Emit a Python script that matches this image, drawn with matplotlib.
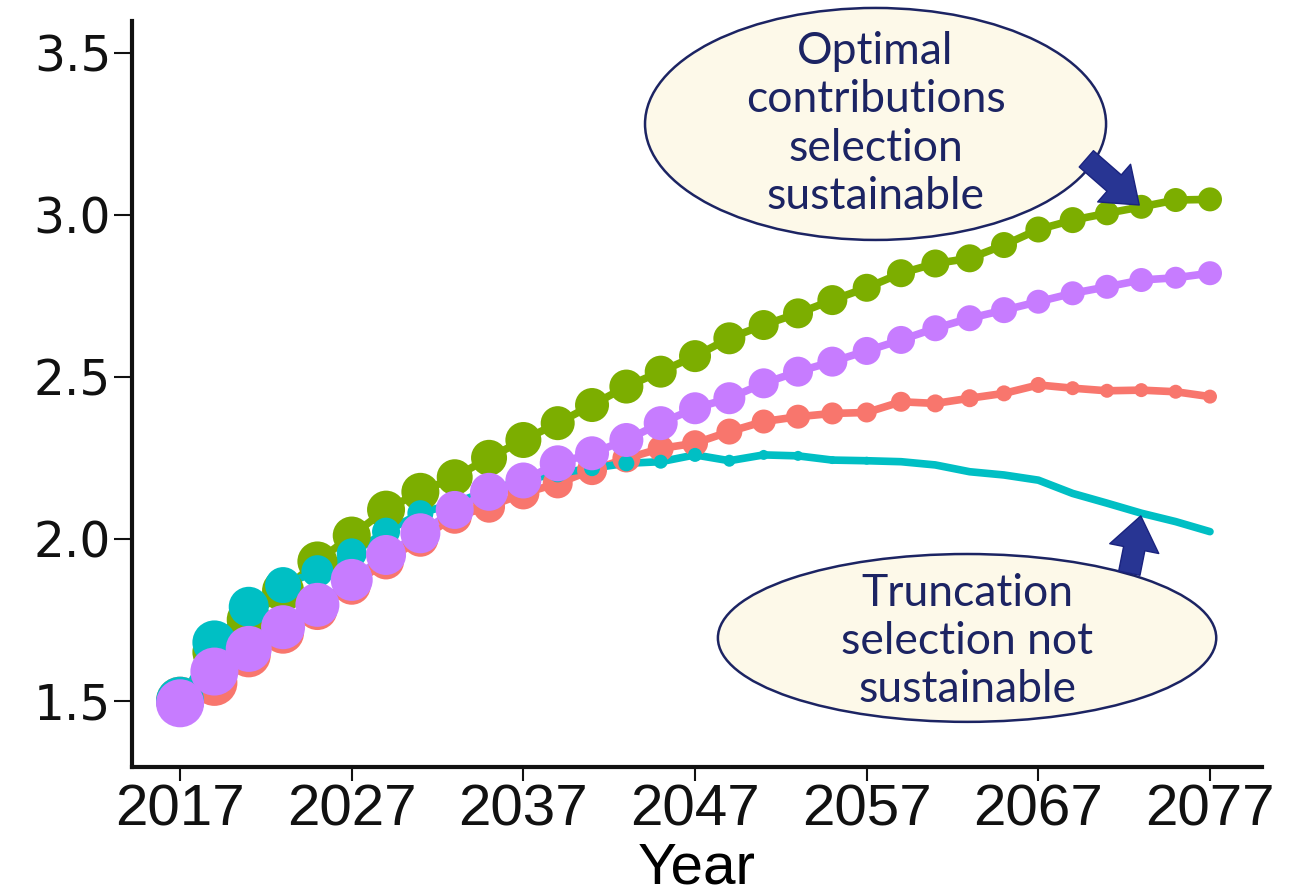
import numpy as np
import matplotlib
matplotlib.use("Agg")
import matplotlib.pyplot as plt
from matplotlib.patches import Ellipse

# --- data (every 2 years) ---
years = list(range(2017, 2078, 2))

green = [1.50, 1.65, 1.75, 1.84, 1.93, 2.01, 2.09, 2.145, 2.19, 2.25, 2.305,
         2.357, 2.413, 2.47, 2.516, 2.564, 2.619, 2.66, 2.696, 2.737, 2.775,
         2.82, 2.85, 2.866, 2.907, 2.955, 2.984, 3.005, 3.025, 3.046, 3.048]
purple = [1.492, 1.59, 1.66, 1.727, 1.796, 1.873, 1.95, 2.017, 2.089, 2.145, 2.18,
          2.233, 2.264, 2.305, 2.357, 2.403, 2.434, 2.48, 2.516, 2.547, 2.58,
          2.614, 2.65, 2.681, 2.706, 2.732, 2.758, 2.778, 2.799, 2.806, 2.82]
red = [1.50, 1.555, 1.64, 1.71, 1.78, 1.855, 1.93, 2.0, 2.068, 2.099, 2.14,
       2.171, 2.212, 2.248, 2.279, 2.295, 2.331, 2.362, 2.377, 2.387, 2.39,
       2.423, 2.418, 2.434, 2.449, 2.475, 2.465, 2.457, 2.459, 2.454, 2.439]
cyan = [1.50, 1.68, 1.79, 1.857, 1.90, 1.955, 2.022, 2.079, 2.11, 2.15, 2.18,
        2.202, 2.218, 2.233, 2.238, 2.259, 2.241, 2.259, 2.256, 2.243, 2.241,
        2.238, 2.228, 2.207, 2.197, 2.181, 2.14, 2.11, 2.079, 2.053, 2.022]

# point size aesthetic (shrinks over time)
size_green = [23, 22, 22, 21, 20, 19, 19, 19, 18, 18, 18, 17, 17, 17, 16, 16,
              16, 15, 15, 15, 14, 14, 14, 14, 13, 13, 13, 12, 12, 12, 12]
size_purple = [24, 24, 23, 22, 22, 21, 20, 20, 19, 19, 18, 18, 17, 17, 17, 16,
               16, 15, 15, 15, 14, 14, 13, 13, 13, 12, 12, 12, 12, 11, 12]
size_red = [24, 23, 22, 21, 20, 19, 18, 18, 17, 16, 16, 15, 15, 14, 13, 13,
            13, 12, 12, 11, 10, 10, 9, 9, 8, 8, 7, 7, 7, 7, 7]
size_cyan = [24, 22, 20, 18, 16, 15, 14, 13, 12, 11, 10, 9, 8, 8, 7, 7,
             6, 5, 5, 4, 4, 3, 3, 3, 2, 2, 2, 2, 2, 2, 2]

x_ticks = [2017, 2027, 2037, 2047, 2057, 2067, 2077]
y_ticks = [1.5, 2.0, 2.5, 3.0, 3.5]

note_top = "Optimal\ncontributions\nselection\nsustainable"
note_bottom = "Truncation\nselection not\nsustainable"

series = [
    (red, size_red, "#F8766D"),
    (green, size_green, "#7CAE00"),
    (cyan, size_cyan, "#00BFC4"),
    (purple, size_purple, "#C77CFF"),
]

W, H = 1289, 896
fig = plt.figure(figsize=(W / 100, H / 100), dpi=100)
ax = fig.add_axes([132 / W, 1 - 767 / H, 1130 / W, 746 / H])

for vals, sz, col in series:
    ax.plot(years, vals, color=col, lw=5.5, solid_capstyle="round", zorder=2)

for vals, sz, col in series:
    s = (1.44 * np.array(sz)) ** 2   # radius px -> area pt^2
    ax.scatter(years, vals, s=s, color=col, linewidths=0, zorder=3)

ax.set_xlim(2014.2, 2080.03)
ax.set_ylim(1.2953, 3.5988)
ax.set_xticks(x_ticks)
ax.set_yticks(y_ticks)
ax.set_yticklabels([f"{v:.1f}" for v in y_ticks], fontsize=35, family="DejaVu Sans")
ax.set_xticklabels([str(v) for v in x_ticks], fontsize=42, family="Liberation Sans")
ax.set_xlabel("Year", fontsize=42, family="Liberation Sans", labelpad=3)

for side in ["top", "right"]:
    ax.spines[side].set_visible(False)
for side in ["left", "bottom"]:
    ax.spines[side].set_linewidth(3)
    ax.spines[side].set_color("#111111")
ax.tick_params(axis="y", length=13, width=1.5, pad=2, colors="#111111")
ax.tick_params(axis="x", length=10, width=1.5, pad=2, colors="#111111")

# callouts
navy = "#1C2463"
fill = "#FDF9E9"
e1 = Ellipse((0.658, 0.862), 0.408, 0.311, transform=ax.transAxes,
             facecolor=fill, edgecolor=navy, lw=1.8, clip_on=False, zorder=5)
e2 = Ellipse((0.739, 0.173), 0.441, 0.225, transform=ax.transAxes,
             facecolor=fill, edgecolor=navy, lw=1.8, clip_on=False, zorder=5)
ax.add_patch(e1)
ax.add_patch(e2)
ax.text(0.658, 0.862, note_top, transform=ax.transAxes, ha="center", va="center",
        fontsize=32, family="Lato", color=navy, linespacing=1.22, zorder=6)
ax.text(0.739, 0.168, note_bottom, transform=ax.transAxes, ha="center", va="center",
        fontsize=32, family="Lato", color=navy, linespacing=1.22, zorder=6)

arrow_style = "simple,head_length=2.0,head_width=3.0,tail_width=1.3"
ax.annotate("", xy=(years[28], green[28]), xytext=(-55, 48), textcoords="offset pixels",
            arrowprops=dict(arrowstyle=arrow_style, mutation_scale=12, fc="#283593",
                            ec="#1A237E", lw=1, shrinkA=0, shrinkB=2), zorder=7)
ax.annotate("", xy=(years[28], cyan[28]), xytext=(-12, -60), textcoords="offset pixels",
            arrowprops=dict(arrowstyle=arrow_style, mutation_scale=12, fc="#283593",
                            ec="#1A237E", lw=1, shrinkA=0, shrinkB=2), zorder=7)

fig.savefig("out.png", dpi=100)
